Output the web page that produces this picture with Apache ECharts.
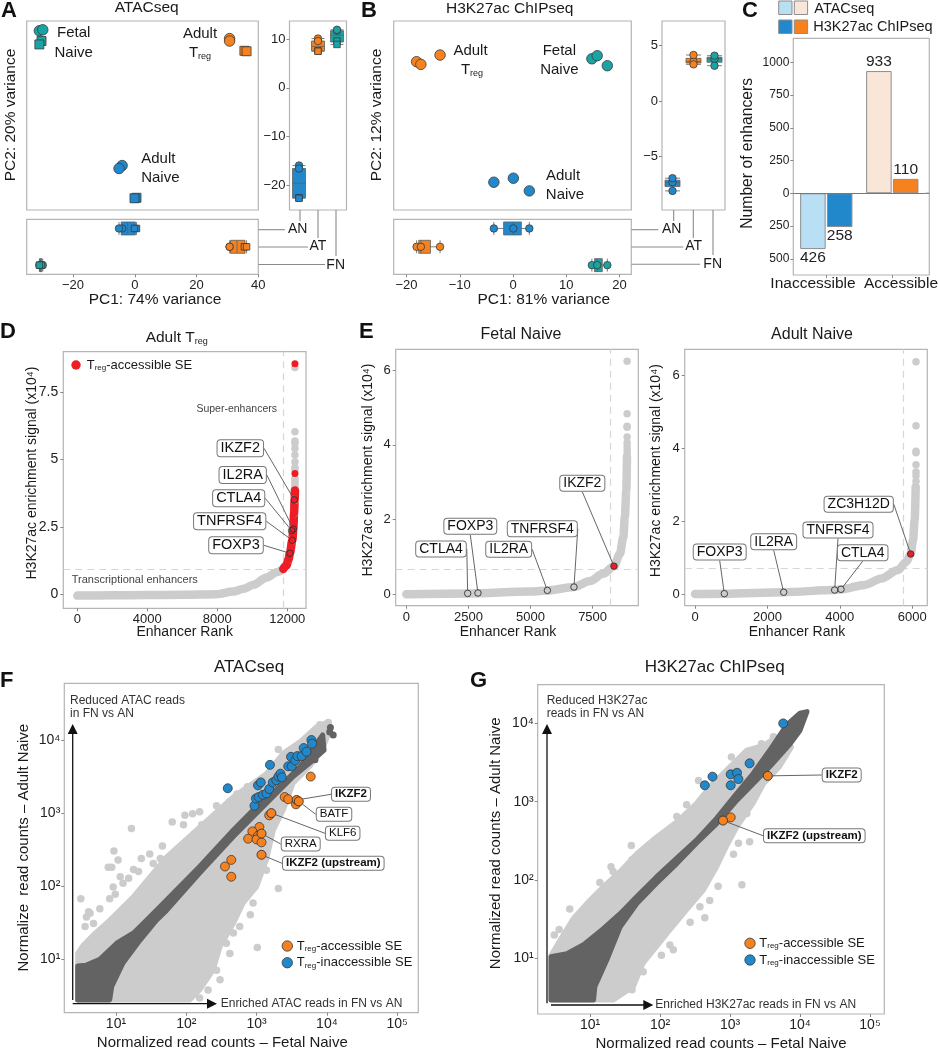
<!DOCTYPE html>
<html>
<head>
<meta charset="utf-8">
<title>Enhancer panels</title>
<script src="https://cdn.jsdelivr.net/npm/echarts@6/dist/echarts.min.js"></script>
<style>
  html, body { margin: 0; padding: 0; background: #fff; }
  #chart { width: 938px; height: 1050px; }
</style>
</head>
<body>
<div id="chart"></div>
<script>
// ---- data ----
const groups = ['AN', 'AT', 'FN'];

// PCA ATACseq: [PC1, PC2]
const atacFetalCircles = [[-30.9, 11.7], [-29.8, 11.9]];
const atacFetalSquares = [[-30.2, 9.6], [-30.9, 8.9]];
const atacTregCircles = [[30.7, 10.1], [30.7, 9.6]];
const atacTregSquares = [[35.5, 7.6], [36.2, 7.5]];
const atacNaiveCircles = [[-4.1, -15.9], [-5.1, -16.5]];
const atacNaiveSquares = [[0.55, -22.5], [-0.1, -22.6]];
// boxes [min, q1, median, q3, max] in AN, AT, FN order
const atacBoxPc1 = [[-5.1, -4.4, -2.3, 0.2, 0.55], [30.7, 31, 33.1, 35.7, 36.2], [-30.9, -30.8, -30.5, -30.1, -29.8]];
const atacBoxPc2 = [[-22.6, -22.5, -19.5, -16.5, -15.9], [7.5, 7.6, 8.5, 9.6, 10.1], [8.9, 9.4, 10.8, 11.7, 11.9]];

// PCA H3K27ac
const chipFetal = [[14.8, 3.8], [15.8, 4.08], [17.7, 3.18]];
const chipTreg = [[-18.1, 3.54], [-17.3, 3.3], [-13.7, 4.14]];
const chipNaive = [[-3.6, -7.3], [0.06, -6.94], [3.06, -8.08]];
const chipBoxPc1 = [[-3.6, -1.77, 0.06, 1.56, 3.06], [-18.1, -17.7, -17.3, -15.5, -13.7], [14.8, 15.3, 15.8, 16.75, 17.7]];
const chipBoxPc2 = [[-8.08, -7.69, -7.3, -7.12, -6.94], [3.3, 3.42, 3.54, 3.84, 4.14], [3.18, 3.49, 3.8, 3.94, 4.08]];

// number of enhancers
const barCategories = ['Inaccessible', 'Accessible'];
const atacBars = [-426, 933];
const chipBars = [-258, 110];

// hockey stick curves: [rank, signal x10^4]
const tregCurve = [[0, -0.05], [2000, -0.04], [4000, -0.03], [6000, -0.02], [7960, 0], [8910, 0.1], [9500, 0.2], [10060, 0.35], [10820, 0.62], [11390, 0.82], [11735, 0.93]];
const tregRedCurve = [[11770, 0.94], [11950, 1.07], [12075, 1.3], [12150, 1.52], [12290, 2.0], [12343, 2.42], [12390, 3.0], [12420, 3.5], [12438, 3.85]];
const tregTopGrey = [[12438, 8.4], [12438, 6.02], [12438, 5.68], [12438, 5.6], [12438, 5.4], [12438, 5.16], [12438, 4.9], [12438, 4.7], [12438, 4.6], [12438, 4.3], [12438, 4.2], [12438, 4.1], [12438, 4.0], [12438, 3.9]];
const tregTopRed = [[12438, 8.54], [12438, 4.48]];
const tregGenes = ['IKZF2', 'IL2RA', 'CTLA4', 'TNFRSF4', 'FOXP3'];
const tregGenePoints = [[12400, 3.5], [12343, 2.42], [12250, 2.36], [12290, 2.0], [12150, 1.52]];
const tregCutoff = [11771, 0.94];

const fetalCurve = [[0, 0], [2500, 0.02], [5000, 0.07], [5680, 0.1], [6750, 0.19], [7394, 0.35], [7930, 0.55], [8360, 0.75], [8600, 1.08], [8736, 1.53], [8800, 2.07], [8857, 2.78], [8884, 3.68]];
const fetalTop = [[8890, 3.75], [8890, 3.85], [8890, 3.95], [8890, 4.05], [8890, 4.21], [8890, 4.47], [8890, 4.5], [8890, 4.83], [8890, 6.24]];
const fetalGenes = ['CTLA4', 'FOXP3', 'IL2RA', 'TNFRSF4', 'IKZF2'];
const fetalGenePoints = [[2470, 0.02], [2885, 0.03], [5680, 0.1], [6750, 0.19], [8360, 0.75]];
const fetalCutoff = [8228, 0.655];

const adultCurve = [[0, 0], [810, 0.01], [2450, 0.05], [3858, 0.11], [4033, 0.13], [4687, 0.25], [5147, 0.43], [5608, 0.66], [5838, 0.89], [5958, 1.1], [6022, 1.48], [6068, 2.03], [6096, 2.95]];
const adultTop = [[6105, 3.1], [6105, 3.25], [6105, 3.35], [6105, 3.55], [6105, 3.88], [6105, 3.92], [6105, 4.62], [6105, 6.38]];
const adultGenes = ['FOXP3', 'IL2RA', 'TNFRSF4', 'CTLA4', 'ZC3H12D'];
const adultGenePoints = [[810, 0.01], [2450, 0.05], [3858, 0.11], [4033, 0.13], [5958, 1.1]];
const adultCutoff = [5765, 0.72];

// read count scatter, all as log10 [fetal naive, adult naive]
const fLightCloud = [[.455, .444], [.455, 1.08], [.536, 1.196], [.70, 1.356], [.915, 1.54], [1.25, 1.86], [1.72, 2.40], [2.19, 2.81], [2.67, 3.225], [2.95, 3.41], [3.14, 3.54], [3.38, 3.82], [3.62, 3.98], [3.85, 4.18], [4.02, 4.25], [4.04, 4.11], [3.95, 3.91], [3.76, 3.64], [3.52, 3.41], [3.38, 3.04], [3.24, 2.77], [3.14, 2.36], [3.0, 1.99], [2.81, 1.77], [2.67, 1.49], [2.48, 1.17], [2.38, .85], [2.19, .58], [2.05, .444]];
const fDarkCloud = [[.455, .91], [.58, .92], [.77, 1.0], [1.01, 1.22], [1.25, 1.36], [1.48, 1.58], [1.72, 1.81], [2.19, 2.27], [2.67, 2.77], [3.0, 3.09], [3.38, 3.41], [3.62, 3.64], [3.85, 3.95], [3.94, 4.07], [3.96, 3.86], [3.81, 3.73], [3.52, 3.50], [3.24, 3.23], [2.95, 2.95], [2.67, 2.68], [2.19, 2.18], [1.72, 1.67], [1.58, 1.54], [1.34, 1.26], [1.10, .95], [.94, .63], [.91, .444], [.455, .444]];
const fLightDots = [[.50, 1.83], [.97, 2.48], [1.03, 2.36], [1.22, 2.79], [1.80, 2.88], [1.98, 2.97], [2.09, 2.99], [2.19, 3.02], [.89, 2.26], [.94, 2.26], [.91, 1.83], [.99, 1.89], [.61, 1.65], [.77, 1.69], [1.66, 2.55], [1.48, 2.44], [1.36, 2.38], [1.53, 2.31], [1.25, 2.23], [1.32, 2.20], [1.18, 2.11], [1.10, 2.04], [3.31, 1.97], [3.01, 1.16], [2.62, 1.08], [2.48, .72], [2.43, .85], [2.76, 1.45], [2.91, 1.61], [2.86, 1.86], [3.14, 2.22], [3.31, 3.87], [2.87, 3.36], [2.72, 3.26], [2.43, 3.10], [2.62, 3.16], [3.90, 4.21], [4.02, 4.24], [.56, 1.45], [.58, 1.58], [.68, 1.49], [.63, 1.63], [2.08, .53], [2.19, .47], [2.31, .58], [2.67, 1.36], [2.57, 1.22], [2.95, 1.77], [1.96, 2.84], [2.22, 2.84], [1.63, 2.38], [1.06, 2.13], [.96, 1.99]];
const fDarkDots = [[4.04, 4.11], [4.09, 4.07], [4.05, 4.17], [3.83, 3.73]];
const fBlue = [[2.59, 3.34], [2.97, 3.10], [2.99, 3.20], [3.03, 3.22], [3.02, 3.38], [3.06, 3.42], [3.09, 3.25], [3.14, 3.27], [3.18, 3.33], [3.19, 3.66], [3.23, 3.42], [3.28, 3.45], [3.31, 3.50], [3.34, 3.54], [3.36, 3.49], [3.45, 3.64], [3.50, 3.64], [3.49, 3.77], [3.55, 3.72], [3.58, 3.78], [3.64, 3.78], [3.67, 3.89], [3.71, 3.84], [3.78, 4.00], [3.79, 3.95]];
const fOrange = [[3.77, 3.50], [3.40, 3.22], [3.45, 3.19], [3.56, 3.12], [3.18, 2.97], [3.04, 2.81], [2.94, 2.75], [3.02, 2.69], [2.88, 2.65], [3.0, 2.64], [3.07, 2.60], [2.64, 2.36], [2.55, 2.27], [2.64, 2.13]];
const fGenes = ['IKZF2', 'BATF', 'KLF6', 'RXRA', 'IKZF2 (upstream)'];
const fGenePoints = [[3.57, 3.18], [3.60, 3.16], [3.21, 3.0], [3.07, 2.72], [3.07, 2.43]];

const gLightCloud = [[.443, .468], [.443, 1.04], [.57, 1.23], [.76, 1.51], [1.0, 1.745], [1.19, 1.915], [1.43, 2.11], [1.67, 2.34], [1.95, 2.55], [2.24, 2.745], [2.52, 2.98], [2.71, 3.19], [3.0, 3.45], [3.24, 3.66], [3.48, 3.72], [3.67, 3.83], [3.88, 3.70], [3.71, 3.45], [3.48, 3.23], [3.33, 2.98], [3.10, 2.68], [2.95, 2.43], [2.81, 2.17], [2.62, 1.87], [2.38, 1.62], [2.14, 1.36], [1.95, 1.15], [1.76, .94], [1.62, .64], [1.33, .468]];
const gDarkCloud = [[.443, 1.02], [.67, 1.06], [.90, 1.17], [1.19, 1.38], [1.43, 1.57], [1.67, 1.79], [1.95, 2.04], [2.24, 2.28], [2.52, 2.51], [2.81, 2.79], [3.10, 3.11], [3.33, 3.36], [3.57, 3.66], [3.81, 3.98], [4.0, 4.13], [4.10, 4.15], [4.0, 3.91], [3.86, 3.74], [3.57, 3.45], [3.33, 3.23], [3.10, 3.02], [2.81, 2.72], [2.52, 2.47], [2.24, 2.21], [1.95, 1.96], [1.67, 1.70], [1.43, 1.40], [1.24, .98], [1.07, .64], [1.05, .468], [.443, .468]];
const gLightDots = [[.71, 1.63], [.56, 1.37], [.49, 1.30], [1.30, 2.17], [1.59, 2.44], [1.60, 2.26], [1.14, 1.97], [3.17, 1.94], [2.83, 1.92], [3.05, 2.33], [3.12, 2.47], [3.28, 2.49], [2.81, 2.28], [2.64, 1.52], [2.43, 1.46], [2.14, 1.17], [2.02, 1.04], [1.60, .60], [3.02, 3.57], [3.45, 3.74], [3.33, 3.66], [3.62, 3.83], [2.55, 3.27], [2.86, 3.21], [2.38, 2.96], [2.55, 2.96], [2.24, 2.81], [1.71, 2.13], [1.33, 2.11], [2.71, 1.74], [2.57, 1.66], [2.19, 1.11], [1.76, .83], [3.24, 2.85]];
const gBlue = [[2.64, 3.21], [2.75, 3.32], [3.01, 3.35], [3.10, 3.37], [3.12, 3.29], [3.01, 3.21], [3.28, 3.49], [3.76, 4.0]];
const gOrange = [[3.01, 2.80]];
const gGenes = ['IKZF2', 'IKZF2 (upstream)'];
const gGenePoints = [[3.54, 3.33], [2.90, 2.76]];

const logTicks = [10, 100, 1000, 10000, 100000];
const logTickLabels = ['10¹', '10²', '10³', '10⁴', '10⁵'];

// ---- styles and helpers ----
const FONT = '"Liberation Sans", Arial, sans-serif';
const TEAL = '#19A3A3', ORANGE = '#F5821F', BLUE = '#2188CC', RED = '#EE1C25';
const LBLUE = '#B9DFF4', PEACH = '#F9E6D8';
const GREY = '#CCCCCC', DARK = '#636363';

const grids = [], xAxes = [], yAxes = [], series = [], graphics = [];

function axisBase(o) {
  const ticks = o.ticks;
  return {
    type: o.type || 'value',
    gridIndex: grids.length - 1,
    min: o.min,
    max: o.max,
    data: o.data,
    inverse: o.inverse,
    logBase: o.type === 'log' ? 10 : undefined,
    axisLine: { show: false, onZero: false },
    splitLine: { show: false },
    axisTick: ticks ? { show: true, length: 3, inside: false, customValues: o.custom ? undefined : ticks, lineStyle: { color: '#888', width: 1 } } : { show: false },
    axisLabel: ticks ? {
      show: true, customValues: o.custom ? undefined : ticks, margin: o.margin || 5, interval: 0,
      color: '#222', fontSize: o.fontSize || 13, fontFamily: FONT,
      formatter: o.formatter || (v => String(v).replace('-', '−'))
    } : { show: false }
  };
}

function addGrid(x0, y0, x1, y1, xOpt, yOpt) {
  grids.push({
    show: true, left: x0, top: y0, width: x1 - x0, height: y1 - y0,
    borderColor: '#b4b4b4', borderWidth: 1.2, backgroundColor: '#fff', containLabel: false
  });
  xAxes.push(axisBase(xOpt));
  yAxes.push(axisBase(yOpt));
  return grids.length - 1;
}

function scatter(idx, data, o) {
  const s = {
    type: 'scatter', xAxisIndex: idx, yAxisIndex: idx, data,
    symbol: o.symbol || 'circle', symbolSize: o.size || 8, z: o.z || 3, silent: true,
    itemStyle: { color: o.color, borderColor: o.border === undefined ? '#3a3a3a' : o.border, borderWidth: o.borderWidth === undefined ? 0.8 : o.borderWidth, opacity: 1 }
  };
  series.push(s);
  return s;
}

const text = (x, y, str, o = {}) => ({
  type: 'text', x, y, silent: true, rotation: o.rot || 0, z: 50,
  style: {
    text: str, fill: o.color || '#1a1a1a', align: o.align || 'center', verticalAlign: 'middle',
    fontFamily: FONT, fontSize: o.size || 15, fontWeight: o.weight || 'normal', rich: o.rich
  }
});
const subRich = size => ({
  t: { fontFamily: FONT, fontSize: size, fill: '#1a1a1a', color: '#1a1a1a' },
  s: { fontFamily: FONT, fontSize: Math.round(size * 0.6), color: '#1a1a1a', verticalAlign: 'bottom', padding: [size * 0.45, 0, 0, 0] }
});
const seg = (x1, y1, x2, y2, color, w) => ({
  type: 'line', silent: true, z: 40, shape: { x1, y1, x2, y2 }, style: { stroke: color || '#8a8a8a', lineWidth: w || 1.1 }
});
const panelTag = (x, y, s) => text(x, y, s, { size: 22, weight: 'bold', align: 'left', color: '#111' });

// PCA block: main panel plus the two margins
function pcaPanel(p) {
  const main = addGrid(p.x0, p.y0, p.x1, p.y1,
    { min: p.xMin, max: p.xMax }, { min: p.yMin, max: p.yMax });
  const right = addGrid(p.rx0, p.y0, p.rx1, p.y1,
    { type: 'category', data: groups }, { min: p.yMin, max: p.yMax, ticks: p.yTicks, margin: 4 });
  const bottom = addGrid(p.x0, p.by0, p.x1, p.by1,
    { min: p.xMin, max: p.xMax, ticks: p.xTicks, margin: 5 }, { type: 'category', data: groups, inverse: true });

  const boxItem = (v, i) => ({ value: v, itemStyle: { color: p.colors[i], borderColor: '#5f5f5f', borderWidth: 0.8 } });
  series.push({ type: 'boxplot', xAxisIndex: right, yAxisIndex: right, silent: true, boxWidth: [p.boxW, p.boxW], data: p.boxPc2.map(boxItem), z: 2 });
  series.push({ type: 'boxplot', xAxisIndex: bottom, yAxisIndex: bottom, silent: true, boxWidth: [13, 13], data: p.boxPc1.map(boxItem), z: 2 });

  p.points.forEach(g => {
    scatter(main, g.data, { color: g.color, symbol: g.symbol, size: g.symbol === 'rect' ? 9 : 10.5 });
    const mSize = g.symbol === 'rect' ? 6.5 : 7.5;
    scatter(right, g.data.map(d => [g.group, d[1]]), { color: g.color, symbol: g.symbol, size: mSize });
    scatter(bottom, g.data.map(d => [d[0], g.group]), { color: g.color, symbol: g.symbol, size: mSize });
  });
}

// points carrying a gene tag; tagPos holds the tag centres on the page
function geneSeries(idx, names, points, tagPos, itemColors, o = {}) {
  const s = scatter(idx, names.map((n, i) => ({
    name: n, value: points[i],
    itemStyle: { color: itemColors[i] }
  })), { color: 'transparent', size: o.size || 8, z: 6, border: '#333', borderWidth: 0.9 });
  s.label = {
    show: true, position: 'top', formatter: '{b}', fontFamily: FONT, fontSize: o.fontSize || 14,
    fontWeight: o.weight || 'normal', color: '#111', backgroundColor: '#fff', borderColor: '#777',
    borderWidth: 1, borderRadius: 3, padding: o.padding || [1, 3, 0, 3]
  };
  s.labelLine = { show: true, lineStyle: { color: '#555', width: 0.9 } };
  s.labelLayout = params => ({
    x: tagPos[params.dataIndex][0], y: tagPos[params.dataIndex][1],
    align: 'center', verticalAlign: 'middle', moveOverlap: false, hideOverlap: false
  });
  return s;
}

function curveLine(idx, data, color, z) {
  series.push({
    type: 'line', xAxisIndex: idx, yAxisIndex: idx, data, silent: true, showSymbol: false, z: z || 2,
    symbol: 'none', smooth: 0.3, smoothMonotone: 'x', lineStyle: { color, width: 8.5, cap: 'round', join: 'round' }
  });
}
function cutoffs(idx, c) {
  const s = series[series.length - 1];
  s.markLine = {
    silent: true, symbol: 'none', label: { show: false }, z: 1,
    lineStyle: { color: '#d6d6d6', width: 1.2, type: [7, 5] },
    data: [{ xAxis: c[0] }, { yAxis: c[1] }]
  };
}

const log = a => a.map(d => [Math.pow(10, d[0]), Math.pow(10, d[1])]);

function cloud(idx, pts, color, z) {
  series.push({
    type: 'custom', xAxisIndex: idx, yAxisIndex: idx, silent: true, z, clip: true,
    data: pts, encode: { x: 0, y: 1 },
    renderItem: (params, api) => {
      if (params.dataIndex > 0) return null;
      return {
        type: 'polygon',
        shape: { points: pts.map(d => api.coord(d)) },
        style: { fill: color, stroke: color, lineWidth: 5, lineJoin: 'round' }
      };
    }
  });
}

const logFormatter = v => logTickLabels[logTicks.indexOf(Math.round(v))] || '';

function readPanel(p) {
  const idx = addGrid(p.x0, p.y0, p.x1, p.y1,
    { type: 'log', min: p.xMin, max: p.xMax, ticks: logTicks, formatter: logFormatter, fontSize: 14, margin: 4 },
    { type: 'log', min: p.yMin, max: p.yMax, ticks: logTicks.slice(0, 4), formatter: logFormatter, fontSize: 14, margin: 4 });
  cloud(idx, log(p.light), GREY, 2);
  scatter(idx, log(p.lightDots), { color: GREY, border: 'transparent', borderWidth: 0, size: 7.5, z: 2 });
  cloud(idx, log(p.dark), DARK, 3);
  if (p.darkDots) scatter(idx, log(p.darkDots), { color: DARK, border: 'transparent', borderWidth: 0, size: 7, z: 3 });
  scatter(idx, log(p.blue), { color: BLUE, size: 9, z: 5 });
  scatter(idx, log(p.orange), { color: ORANGE, size: 9, z: 5 });
  geneSeries(idx, p.genes, log(p.genePoints), p.tagPos, p.genes.map(() => ORANGE),
    { size: 9, fontSize: 11.5, padding: [1, 3, 0, 3] });
  const s = series[series.length - 1];
  s.data.forEach(d => { if (d.name.indexOf('IKZF2') === 0) d.label = { fontWeight: 'bold' }; });
}

// ---- panels A and B ----
pcaPanel({
  x0: 26.7, x1: 258.3, y0: 21, y1: 210, rx0: 289.5, rx1: 346.5, by0: 219.3, by1: 274.3,
  xMin: -35, xMax: 40, yMin: -25, yMax: 13.7, xTicks: [-20, 0, 20, 40], yTicks: [-20, -10, 0, 10],
  boxW: 13, boxPc1: atacBoxPc1, boxPc2: atacBoxPc2, colors: [BLUE, ORANGE, TEAL],
  points: [
    { group: 'FN', color: TEAL, symbol: 'circle', data: atacFetalCircles },
    { group: 'FN', color: TEAL, symbol: 'rect', data: atacFetalSquares },
    { group: 'AT', color: ORANGE, symbol: 'circle', data: atacTregCircles },
    { group: 'AT', color: ORANGE, symbol: 'rect', data: atacTregSquares },
    { group: 'AN', color: BLUE, symbol: 'circle', data: atacNaiveCircles },
    { group: 'AN', color: BLUE, symbol: 'rect', data: atacNaiveSquares }
  ]
});
pcaPanel({
  x0: 393.7, x1: 631.3, y0: 21, y1: 210, rx0: 662, rx1: 725, by0: 219.3, by1: 274.3,
  xMin: -22.4, xMax: 22.2, yMin: -9.8, yMax: 7.2, xTicks: [-20, -10, 0, 10, 20], yTicks: [-5, 0, 5],
  boxW: 15, boxPc1: chipBoxPc1, boxPc2: chipBoxPc2, colors: [BLUE, ORANGE, TEAL],
  points: [
    { group: 'FN', color: TEAL, symbol: 'circle', data: chipFetal },
    { group: 'AT', color: ORANGE, symbol: 'circle', data: chipTreg },
    { group: 'AN', color: BLUE, symbol: 'circle', data: chipNaive }
  ]
});

// ---- panel C ----
// the categories sit a little left of centre in the frame, so the frame is drawn on its own
const barIdx = addGrid(793.3, 38.3, 925.3, 275,
  { type: 'category', data: barCategories, ticks: [0, 1], custom: true, fontSize: 15.5, margin: 6, formatter: () => '' },
  { min: -624, max: 1183, ticks: [1000, 750, 500, 250, 0, -250, -500], fontSize: 12, margin: 4, formatter: v => String(Math.abs(v)) });
grids[barIdx].show = false;
xAxes[barIdx].axisTick.alignWithLabel = true;
const barLabel = v => ({
  show: true, position: v < 0 ? 'bottom' : 'top', distance: 1, color: '#222', fontSize: 15.5, fontFamily: FONT, formatter: String(Math.abs(v))
});
series.push({
  type: 'bar', xAxisIndex: barIdx, yAxisIndex: barIdx, silent: true, barWidth: 25.5, barGap: '5%',
  data: atacBars.map((v, i) => ({ value: v, label: barLabel(v), itemStyle: { color: i ? PEACH : LBLUE, borderColor: '#8d8d8d', borderWidth: 1 } })),
  markLine: { silent: true, symbol: 'none', label: { show: false }, lineStyle: { color: '#777', width: 1.2, type: 'solid' }, data: [{ yAxis: 0 }] }
});
series.push({
  type: 'bar', xAxisIndex: barIdx, yAxisIndex: barIdx, silent: true, barWidth: 25.5, barGap: '5%',
  data: chipBars.map((v, i) => ({ value: v, label: barLabel(v), itemStyle: { color: i ? ORANGE : BLUE, borderColor: '#8d8d8d', borderWidth: 1 } }))
});

// ---- panel D ----
const dIdx = addGrid(63.3, 351.7, 306, 608.3,
  { min: -800, max: 13070, ticks: [0, 4000, 8000, 12000] },
  { min: -0.52, max: 8.99, ticks: [0, 2.5, 5, 7.5], fontSize: 14 });
curveLine(dIdx, tregCurve, GREY);
cutoffs(dIdx, tregCutoff);
scatter(dIdx, tregTopGrey, { color: GREY, border: 'transparent', borderWidth: 0, size: 7.5, z: 2 });
curveLine(dIdx, tregRedCurve, RED, 3);
scatter(dIdx, tregTopRed, { color: RED, border: 'transparent', borderWidth: 0, size: 7, z: 3 });
geneSeries(dIdx, tregGenes, tregGenePoints,
  [[240.3, 448.3], [242.7, 475], [238.7, 498.3], [229.7, 521.3], [236, 545.3]],
  tregGenes.map(() => 'transparent'), { size: 6.5, fontSize: 14.5 });

// ---- panel E ----
const eFetal = addGrid(395.7, 349.3, 638.3, 605.7,
  { min: -427, max: 9340, ticks: [0, 2500, 5000, 7500] },
  { min: -0.31, max: 6.56, ticks: [0, 2, 4, 6] });
curveLine(eFetal, fetalCurve, GREY);
cutoffs(eFetal, fetalCutoff);
scatter(eFetal, fetalTop, { color: GREY, border: 'transparent', borderWidth: 0, size: 7.5, z: 2 });
geneSeries(eFetal, fetalGenes, fetalGenePoints,
  [[441, 549], [470.3, 526.3], [508.7, 549.3], [542.3, 528.7], [582.3, 483.3]],
  ['transparent', 'transparent', 'transparent', 'transparent', RED], { size: 6.5 });

const eAdult = addGrid(684.7, 349.3, 927.3, 605.7,
  { min: -285, max: 6417, ticks: [0, 2000, 4000, 6000] },
  { min: -0.32, max: 6.72, ticks: [0, 2, 4, 6] });
curveLine(eAdult, adultCurve, GREY);
cutoffs(eAdult, adultCutoff);
scatter(eAdult, adultTop, { color: GREY, border: 'transparent', borderWidth: 0, size: 7.5, z: 2 });
geneSeries(eAdult, adultGenes, adultGenePoints,
  [[719.7, 552], [773.7, 541.7], [838, 530], [862.7, 552.7], [858.7, 504.3]],
  ['transparent', 'transparent', 'transparent', 'transparent', RED], { size: 6.5 });

// ---- panels F and G ----
readPanel({
  x0: 64.3, x1: 418.3, y0: 683.3, y1: 1012.7,
  xMin: 1.84, xMax: 199600, yMin: 1.86, yMax: 59700,
  light: fLightCloud, dark: fDarkCloud, lightDots: fLightDots, darkDots: fDarkDots,
  blue: fBlue, orange: fOrange, genes: fGenes, genePoints: fGenePoints,
  tagPos: [[351, 794.3], [334, 814.3], [342.7, 833.3], [300.7, 844], [333.3, 863.3]]
});
readPanel({
  x0: 537.7, x1: 884.3, y0: 684.7, y1: 1014,
  xMin: 1.79, xMax: 160000, yMin: 1.95, yMax: 31200,
  light: gLightCloud, dark: gDarkCloud, lightDots: gLightDots,
  blue: gBlue, orange: gOrange, genes: gGenes, genePoints: gGenePoints,
  tagPos: [[841.7, 775], [814.3, 835.7]]
});

// ---- free text, connectors, arrows ----
graphics.push(
  panelTag(1, 11, 'A'), panelTag(361, 11, 'B'), panelTag(742, 11, 'C'),
  panelTag(0, 332, 'D'), panelTag(359, 332, 'E'), panelTag(0, 681, 'F'), panelTag(470, 681, 'G'),

  text(146.7, 8, 'ATACseq', { size: 15.5 }),
  text(509.7, 9, 'H3K27ac ChIPseq', { size: 15.5 }),
  text(155, 299.7, 'PC1: 74% variance', { size: 15.5 }),
  text(543.8, 299.7, 'PC1: 81% variance', { size: 15.5 }),
  text(11, 115, 'PC2: 20% variance', { size: 15.5, rot: Math.PI / 2 }),
  text(377, 115, 'PC2: 12% variance', { size: 15.5, rot: Math.PI / 2 }),

  text(73.7, 33.3, 'Fetal'), text(73.7, 52.7, 'Naive'),
  text(200, 34, 'Adult'), text(200, 53, '{t|T}{s|reg}', { rich: subRich(15) }),
  text(158.3, 159.3, 'Adult'), text(160.3, 178.3, 'Naive'),
  text(470.5, 50.7, 'Adult'), text(472, 70, '{t|T}{s|reg}', { rich: subRich(15) }),
  text(559.3, 50.7, 'Fetal'), text(559.3, 69.7, 'Naive'),
  text(563, 176, 'Adult'), text(565, 195, 'Naive'),

  seg(258.5, 229.7, 285, 229.7), seg(258.5, 247, 308, 247), seg(258.5, 264.5, 325, 264.5),
  seg(300, 210, 300, 221), seg(318, 210, 318, 238), seg(336, 210, 336, 256),
  text(297.7, 229, 'AN', { size: 14 }), text(318, 246, 'AT', { size: 14 }), text(335.7, 265, 'FN', { size: 14 }),
  seg(631.5, 229.7, 658.3, 229.7), seg(631.5, 247, 683.3, 247), seg(631.5, 264.3, 700, 264.3),
  seg(673.7, 210, 673.7, 221), seg(693.3, 210, 693.3, 238), seg(713, 210, 713, 255),
  text(671.7, 229, 'AN', { size: 14 }), text(693.7, 246, 'AT', { size: 14 }), text(712.7, 264.3, 'FN', { size: 14 }),

  // bar panel frame, legend and labels
  { type: 'rect', silent: true, z: 0, shape: { x: 793.3, y: 38.3, width: 136, height: 236.7 }, style: { fill: 'none', stroke: '#b4b4b4', lineWidth: 1.2 } },
  seg(925.3, 193.3, 929.3, 193.3, '#777', 1.2),
  text(813, 283.5, barCategories[0], { size: 15.5 }),
  text(901, 283.5, barCategories[1], { size: 15.5 }),
  { type: 'rect', silent: true, shape: { x: 778.7, y: 1, width: 13.3, height: 13.5 }, style: { fill: LBLUE, stroke: '#8d8d8d', lineWidth: 1 } },
  { type: 'rect', silent: true, shape: { x: 794.3, y: 1, width: 13.3, height: 13.5 }, style: { fill: PEACH, stroke: '#8d8d8d', lineWidth: 1 } },
  { type: 'rect', silent: true, shape: { x: 778.7, y: 20, width: 13.3, height: 13.5 }, style: { fill: BLUE, stroke: '#8d8d8d', lineWidth: 1 } },
  { type: 'rect', silent: true, shape: { x: 794.3, y: 20, width: 13.3, height: 13.5 }, style: { fill: ORANGE, stroke: '#8d8d8d', lineWidth: 1 } },
  text(814.3, 9, 'ATACseq', { size: 14.5, align: 'left' }),
  text(813.3, 26.7, 'H3K27ac ChIPseq', { size: 14.5, align: 'left' }),
  text(747.7, 153.3, 'Number of enhancers', { size: 15.7, rot: Math.PI / 2 }),

  // D / E
  text(176.7, 338, '{t|Adult T}{s|reg}', { rich: subRich(15.5) }),
  text(32, 473, 'H3K27ac enrichment signal (x10⁴)', { size: 14, rot: Math.PI / 2 }),
  text(368, 470, 'H3K27ac enrichment signal (x10⁴)', { size: 14, rot: Math.PI / 2 }),
  text(656, 470.7, 'H3K27ac enrichment signal (x10⁴)', { size: 14, rot: Math.PI / 2 }),
  { type: 'circle', silent: true, z: 45, shape: { cx: 76, cy: 365, r: 4.7 }, style: { fill: RED } },
  text(86.7, 365, '{t|T}{s|reg}{t|-accessible SE}', { align: 'left', rich: subRich(13) }),
  text(236.7, 409.3, 'Super-enhancers', { size: 10.5, color: '#444' }),
  text(71.7, 580, 'Transcriptional enhancers', { size: 11, color: '#444', align: 'left' }),
  text(184.7, 631.7, 'Enhancer Rank', { size: 14 }),
  text(508, 631.7, 'Enhancer Rank', { size: 14 }),
  text(797, 631.7, 'Enhancer Rank', { size: 14 }),
  text(521, 335, 'Fetal Naive', { size: 16 }),
  text(812, 335, 'Adult Naive', { size: 16 }),

  // F
  text(249, 667, 'ATACseq', { size: 17 }),
  text(222.3, 1043.3, 'Normalized read counts – Fetal Naive', { size: 15 }),
  text(24, 847.7, 'Normalize  read counts – Adult Naive', { size: 15, rot: Math.PI / 2 }),
  text(70, 700.7, 'Reduced ATAC reads', { size: 12, align: 'left', color: '#333' }),
  text(70, 713.3, 'in FN vs AN', { size: 12, align: 'left', color: '#333' }),
  text(220.7, 1003.7, 'Enriched ATAC reads in FN vs AN', { size: 12, align: 'left', color: '#333' }),
  seg(72.7, 1000, 72.7, 730, '#111', 1.3),
  { type: 'polygon', silent: true, z: 41, shape: { points: [[72.7, 724], [67.7, 734], [77.7, 734]] }, style: { fill: '#111' } },
  seg(72.7, 1003.7, 210, 1003.7, '#111', 1.3),
  { type: 'polygon', silent: true, z: 41, shape: { points: [[217, 1003.7], [207, 998.7], [207, 1008.7]] }, style: { fill: '#111' } },
  { type: 'circle', silent: true, z: 45, shape: { cx: 287.3, cy: 946, r: 5.2 }, style: { fill: ORANGE, stroke: '#3a3a3a', lineWidth: 0.8 } },
  { type: 'circle', silent: true, z: 45, shape: { cx: 287.3, cy: 962.7, r: 5.2 }, style: { fill: BLUE, stroke: '#3a3a3a', lineWidth: 0.8 } },
  text(296.7, 946, '{t|T}{s|reg}{t|-accessible SE}', { align: 'left', rich: subRich(13) }),
  text(296.7, 962.7, '{t|T}{s|reg}{t|-inaccessible SE}', { align: 'left', rich: subRich(13) }),

  // G
  text(714.7, 667, 'H3K27ac ChIPseq', { size: 17 }),
  text(721, 1044, 'Normalized read counts – Fetal Naive', { size: 15 }),
  text(496, 843.3, 'Normalized read counts – Adult Naive', { size: 15, rot: Math.PI / 2 }),
  text(546.7, 700.7, 'Reduced H3K27ac', { size: 12, align: 'left', color: '#333' }),
  text(546.7, 713.3, 'reads in FN vs AN', { size: 12, align: 'left', color: '#333' }),
  text(655.3, 1004.7, 'Enriched H3K27ac reads in FN vs AN', { size: 12, align: 'left', color: '#333' }),
  seg(547, 1003.3, 547, 730, '#111', 1.3),
  { type: 'polygon', silent: true, z: 41, shape: { points: [[547, 724], [542, 734], [552, 734]] }, style: { fill: '#111' } },
  seg(551, 1005, 646, 1005, '#111', 1.3),
  { type: 'polygon', silent: true, z: 41, shape: { points: [[653.3, 1005], [643.3, 1000], [643.3, 1010]] }, style: { fill: '#111' } },
  { type: 'circle', silent: true, z: 45, shape: { cx: 750, cy: 943.3, r: 5.2 }, style: { fill: ORANGE, stroke: '#3a3a3a', lineWidth: 0.8 } },
  { type: 'circle', silent: true, z: 45, shape: { cx: 750, cy: 960, r: 5.2 }, style: { fill: BLUE, stroke: '#3a3a3a', lineWidth: 0.8 } },
  text(759.3, 943.3, '{t|T}{s|reg}{t|-accessible SE}', { align: 'left', rich: subRich(13) }),
  text(759.3, 960, '{t|T}{s|reg}{t|-inaccessible SE}', { align: 'left', rich: subRich(13) })
);

const chart = echarts.init(document.getElementById('chart'), null, { renderer: 'canvas' });
chart.setOption({
  animation: false,
  backgroundColor: '#fff',
  textStyle: { fontFamily: FONT },
  grid: grids,
  xAxis: xAxes,
  yAxis: yAxes,
  series: series,
  graphic: graphics
});
</script>
</body>
</html>
